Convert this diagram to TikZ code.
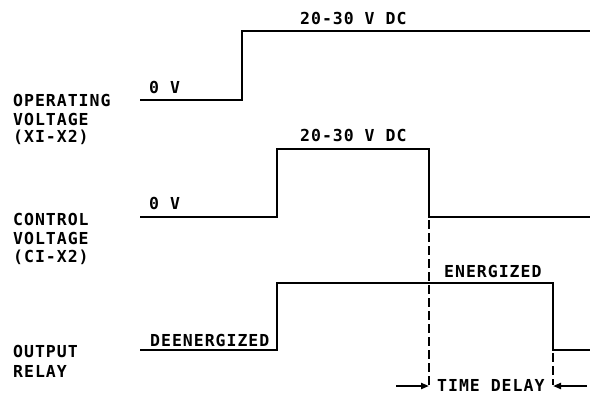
\documentclass[tikz,border=0pt]{standalone}
\usepackage{fontspec}
\newfontfamily\plotfont[LetterSpace=6.0]{DejaVu Sans Mono}
\usetikzlibrary{arrows.meta}
\begin{document}
\begin{tikzpicture}[x=1pt,y=-1pt,
  sig/.style={line width=2.5pt,line join=miter},
  guide/.style={line width=2.2pt,dash pattern=on 9pt off 4pt},
  dim/.style={line width=2.2pt,-{Triangle[length=8pt,width=6pt]}},
  lbl/.style={inner sep=0pt,anchor=west,font=\plotfont\bfseries\fontsize{16.5}{19}\selectfont},
]
\useasboundingbox (0,0) rectangle (590,394);
% signal 1: operating voltage
\draw[sig] (140,100) -- (242,100) -- (242,31) -- (590,31);
% signal 2: control voltage
\draw[sig] (140,217) -- (277,217) -- (277,149) -- (429,149) -- (429,217) -- (590,217);
% signal 3: output relay
\draw[sig] (140,350) -- (277,350) -- (277,283) -- (553,283) -- (553,350) -- (590,350);
% guides
\coordinate (g1top) at (429,220);
\coordinate (g1bot) at (429,385);
\coordinate (g2top) at (553,353);
\coordinate (g2bot) at (553,385);
\draw[guide] (g1top) -- (g1bot);
\draw[guide] (g2top) -- (g2bot);
\coordinate (a1) at (396,386);
\coordinate (a2) at (587,386);
\draw[dim] (a1) -- (g1bot |- a1);
\draw[dim] (a2) -- (g2bot |- a2);
% labels
\node[lbl] (t1) at (300,18) {20-30 V DC};
\node[lbl] (z1) at (149,87) {0 V};
\node[lbl] (t2) at (300,135) {20-30 V DC};
\node[lbl] (z2) at (149,203) {0 V};
\node[lbl] (en) at (444,271) {ENERGIZED};
\node[lbl] (de) at (150,340) {DEENERGIZED};
\node[lbl] (td) at (437,385) {TIME DELAY};
\node[lbl] (o1) at (13,100) {OPERATING};
\node[lbl] (o2) at (13,119) {VOLTAGE};
\node[lbl] (o3) at (13,137) {(XI-X2)};
\node[lbl] (c1) at (13,219) {CONTROL};
\node[lbl] (c2) at (13,238) {VOLTAGE};
\node[lbl] (c3) at (13,257) {(CI-X2)};
\node[lbl] (r1) at (13,351) {OUTPUT};
\node[lbl] (r2) at (13,371) {RELAY};
\end{tikzpicture}
\end{document}
